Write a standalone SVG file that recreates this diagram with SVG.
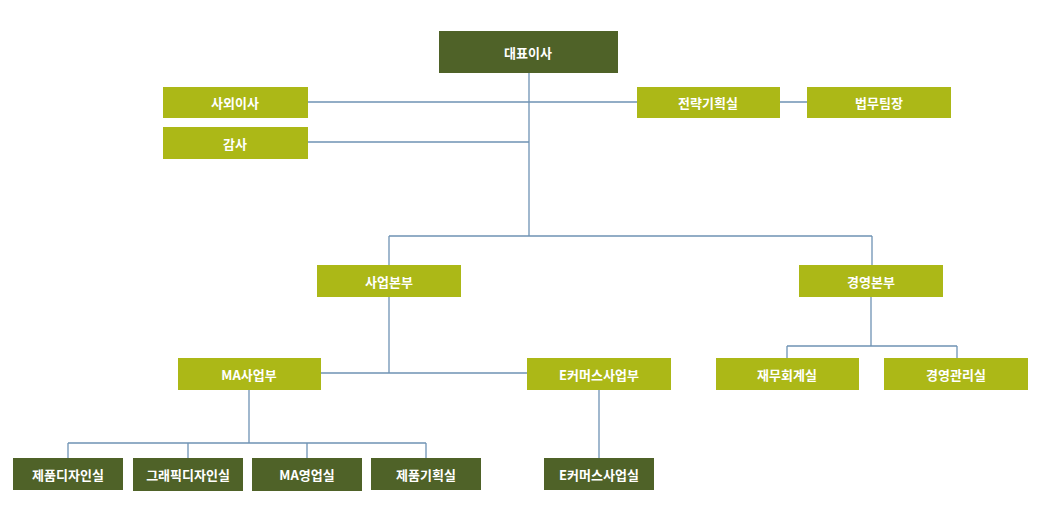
<svg xmlns="http://www.w3.org/2000/svg" width="1047" height="509" viewBox="0 0 1047 509">
<style>
.d{fill:#4f6228}.l{fill:#acb817}
text{font-family:"Noto Sans CJK KR","Noto Sans",sans-serif;font-size:13px;font-weight:bold;fill:#fff;text-anchor:middle;dominant-baseline:central}
.c{stroke:#6f93b4;stroke-width:1.3;fill:none}
</style>
<g id="connectors" class="c">
<path d="M529 73V236M308 102H637M308 142H529M780 102H807M389 236H872M389 236V265M872 236V265M389 297V373M321 373H527M249 390V443M68 443H426M68 443V458M188 443V458M307 443V458M426 443V458M599 390V458M871 297V346M787 346H957M787 346V358M957 346V358"/>
</g>
<g id="n1"><rect class="d" x="439" y="31" width="179" height="42"/><text x="528" y="52">대표이사</text></g>
<g id="n2"><rect class="l" x="163" y="87" width="145" height="31"/><text x="235" y="102">사외이사</text></g>
<g id="n3"><rect class="l" x="163" y="127" width="145" height="32"/><text x="235" y="143">감사</text></g>
<g id="n4"><rect class="l" x="637" y="87" width="143" height="31"/><text x="708" y="102">전략기획실</text></g>
<g id="n5"><rect class="l" x="807" y="87" width="144" height="31"/><text x="879" y="102">법무팀장</text></g>
<g id="n6"><rect class="l" x="317" y="265" width="144" height="32"/><text x="389" y="281">사업본부</text></g>
<g id="n7"><rect class="l" x="799" y="265" width="144" height="32"/><text x="871" y="281">경영본부</text></g>
<g id="n8"><rect class="l" x="178" y="358" width="143" height="32"/><text x="249" y="374">MA사업부</text></g>
<g id="n9"><rect class="l" x="527" y="358" width="144" height="32"/><text x="599" y="374">E커머스사업부</text></g>
<g id="n10"><rect class="l" x="716" y="358" width="143" height="32"/><text x="787" y="374">재무회계실</text></g>
<g id="n11"><rect class="l" x="884" y="358" width="144" height="32"/><text x="956" y="374">경영관리실</text></g>
<g id="n12"><rect class="d" x="13" y="458" width="110" height="32"/><text x="68" y="474">제품디자인실</text></g>
<g id="n13"><rect class="d" x="133" y="458" width="110" height="33"/><text x="188" y="474">그래픽디자인실</text></g>
<g id="n14"><rect class="d" x="252" y="458" width="110" height="33"/><text x="307" y="474">MA영업실</text></g>
<g id="n15"><rect class="d" x="371" y="458" width="110" height="32"/><text x="426" y="474">제품기획실</text></g>
<g id="n16"><rect class="d" x="544" y="458" width="110" height="32"/><text x="599" y="474">E커머스사업실</text></g>
</svg>
